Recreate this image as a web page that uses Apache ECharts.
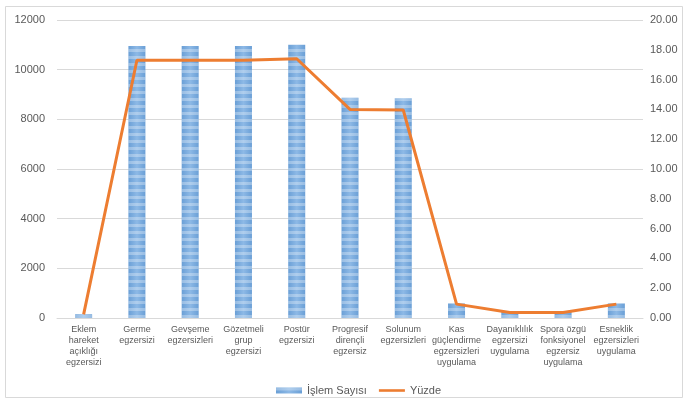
<!DOCTYPE html>
<html>
<head>
<meta charset="utf-8">
<script src="https://cdn.jsdelivr.net/npm/echarts@6/dist/echarts.min.js"></script>
<style>
html,body{margin:0;padding:0;background:#fff;}
#chart{width:684px;height:400px;}
</style>
</head>
<body>
<div id="chart"></div>
<script>
const categories = [
  "Eklem\nhareket\naçıklığı\negzersizi",
  "Germe\negzersizi",
  "Gevşeme\negzersizleri",
  "Gözetmeli\ngrup\negzersizi",
  "Postür\negzersizi",
  "Progresif\ndirençli\negzersiz",
  "Solunum\negzersizleri",
  "Kas\ngüçlendirme\negzersizleri\nuygulama",
  "Dayanıklılık\negzersizi\nuygulama",
  "Spora özgü\nfonksiyonel\negzersiz\nuygulama",
  "Esneklik\negzersizleri\nuygulama"
];
const islemSayisi = [150, 10950, 10950, 10950, 11000, 8870, 8850, 590, 250, 250, 590];
const yuzde = [0.24, 17.30, 17.30, 17.30, 17.40, 14.00, 13.96, 0.93, 0.37, 0.37, 0.93];
const leftTicks = {min: 0, max: 12000, interval: 2000};
const rightTicks = {min: 0, max: 20, interval: 2};

const chart = echarts.init(document.getElementById('chart'));
chart.setOption({
  animation: false,
  backgroundColor: '#fff',
  textStyle: {fontFamily: 'Liberation Sans, Arial, sans-serif'},
  graphic: [{
    type: 'rect',
    shape: {x: 5.5, y: 6.5, width: 677, height: 391},
    style: {fill: 'none', stroke: '#d9d9d9', lineWidth: 1},
    silent: true
  }],
  grid: {left: 57, right: 41, top: 20, bottom: 82},
  legend: {
    left: 271, top: 380,
    itemGap: 12,
    itemWidth: 26, itemHeight: 6,
    textStyle: {color: '#595959', fontSize: 11, fontFamily: 'Liberation Sans, Arial, sans-serif'},
    data: [
      {name: 'İşlem Sayısı', icon: 'rect'},
      {name: 'Yüzde', icon: 'path://M0,0L40,0L40,4L0,4Z'}
    ]
  },
  xAxis: {
    type: 'category',
    data: categories,
    axisLine: {lineStyle: {color: '#d9d9d9', width: 1}},
    axisTick: {show: false},
    axisLabel: {
      interval: 0, color: '#595959', fontSize: 9, lineHeight: 11, margin: 6,
      fontFamily: 'Liberation Sans, Arial, sans-serif'
    }
  },
  yAxis: [{
    type: 'value',
    min: leftTicks.min, max: leftTicks.max, interval: leftTicks.interval,
    axisLine: {show: false}, axisTick: {show: false},
    splitLine: {lineStyle: {color: '#d9d9d9', width: 1}},
    axisLabel: {color: '#595959', fontSize: 11, margin: 12, formatter: v => String(v)}
  }, {
    type: 'value',
    min: rightTicks.min, max: rightTicks.max, interval: rightTicks.interval,
    axisLine: {show: false}, axisTick: {show: false},
    splitLine: {show: false},
    axisLabel: {color: '#595959', fontSize: 11, margin: 7, formatter: v => v.toFixed(2)}
  }],
  series: [{
    name: 'İşlem Sayısı',
    type: 'bar',
    data: islemSayisi,
    barWidth: 17,
    itemStyle: {
      color: {
        type: 'linear', x: 0, y: 0, x2: 1, y2: 0,
        colorStops: [
          {offset: 0, color: '#6a9fd6'},
          {offset: 0.5, color: '#8db9e6'},
          {offset: 1, color: '#6a9fd6'}
        ]
      },
      decal: {
        symbol: 'rect', symbolSize: 1,
        dashArrayX: [[1, 0]], dashArrayY: [3, 4],
        rotation: 0, color: 'rgba(255,255,255,0.3)'
      }
    }
  }, {
    name: 'Yüzde',
    type: 'line',
    yAxisIndex: 1,
    data: yuzde,
    symbol: 'none',
    lineStyle: {color: '#ed7d31', width: 3},
    itemStyle: {color: '#ed7d31'}
  }]
});
</script>
</body>
</html>
